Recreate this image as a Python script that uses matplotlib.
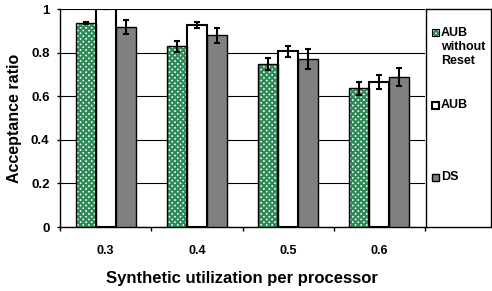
import matplotlib
matplotlib.use("Agg")
import matplotlib.pyplot as plt
from matplotlib.patches import Rectangle
import numpy as np

plt.rcParams['font.family'] = ['Liberation Sans', 'DejaVu Sans']
plt.rcParams['font.weight'] = 'bold'
plt.rcParams['hatch.linewidth'] = 1.6

categories = ["0.3", "0.4", "0.5", "0.6"]
series_names = ["AUB\nwithout\nReset", "AUB", "DS"]
aub_noreset = [0.936, 0.830, 0.748, 0.636]
aub_noreset_err = [0.006, 0.025, 0.028, 0.030]
aub = [1.0, 0.928, 0.807, 0.665]
aub_err = [0.002, 0.013, 0.025, 0.031]
ds = [0.916, 0.879, 0.771, 0.688]
ds_err = [0.032, 0.035, 0.047, 0.040]
yticks = [0, 0.2, 0.4, 0.6, 0.8, 1]
ytick_labels = ["0", "0.2", "0.4", "0.6", "0.8", "1"]

W, H = 492, 291
fig = plt.figure(figsize=(W / 100, H / 100), dpi=100)
ax = fig.add_axes([60 / W, 1 - 227 / H, (425 - 60) / W, (227 - 9) / H])

x = np.arange(len(categories)) + 0.5
bw = 0.22
green = "#2e8b57"

ax.bar(x - bw, aub_noreset, bw, color="white", edgecolor=green, hatch="xxxxxx",
       linewidth=0, zorder=3)
ax.bar(x - bw, aub_noreset, bw, fill=False, edgecolor="black", linewidth=1.0, zorder=4)
ax.bar(x, aub, bw, color="white", edgecolor="black", linewidth=1.5, zorder=3)
ax.bar(x + bw, ds, bw, color="#808080", edgecolor="black", linewidth=1.0, zorder=3)

for off, vals, errs in [(-bw, aub_noreset, aub_noreset_err), (0, aub, aub_err), (bw, ds, ds_err)]:
    ax.errorbar(x + off, vals, yerr=errs, fmt="none", ecolor="black", elinewidth=1.5,
                capsize=2.2, capthick=1.5, zorder=5)

ax.set_xlim(0, len(categories))
ax.set_ylim(0, 1)
ax.set_yticks(yticks)
ax.set_yticklabels(ytick_labels, fontsize=9.5, fontweight="bold")
ax.set_xticks(np.arange(len(categories) + 1))
ax.set_xticklabels([])
ax.set_xticks(x, minor=True)
ax.set_xticklabels(categories, minor=True, fontsize=9, fontweight="bold")
ax.tick_params(axis="x", which="minor", length=0, pad=13)
ax.tick_params(axis="x", which="major", length=3, width=1, direction="out")
ax.tick_params(axis="y", length=2.5, width=1, direction="out", pad=5)
ax.yaxis.grid(True, color="black", linewidth=0.8, zorder=0)
ax.set_axisbelow(True)
for s in ["top", "right"]:
    ax.spines[s].set_visible(False)
ax.spines["left"].set_linewidth(1.0)
ax.spines["bottom"].set_linewidth(1.0)

ax.set_ylabel("Acceptance ratio", fontsize=11.5, fontweight="bold")
ax.yaxis.set_label_coords((15 - 60) / 365, 0.5)
ax.yaxis.label.set_verticalalignment("center")
ax.set_xlabel("Synthetic utilization per processor", fontsize=12, fontweight="bold")
ax.xaxis.set_label_coords((242 - 60) / 365, (227 - 278) / 218)
ax.xaxis.label.set_verticalalignment("center")

# legend box
lax = fig.add_axes([426 / W, 1 - 227 / H, (491 - 426) / W, (227 - 9) / H])
lax.set_xlim(426, 491)
lax.set_ylim(227, 9)
lax.set_xticks([])
lax.set_yticks([])
for s in lax.spines.values():
    s.set_linewidth(1.0)
    s.set_color("black")
entries = [
    (33, dict(facecolor="white", edgecolor=green, hatch="xxxxxx", linewidth=0)),
    (106, dict(facecolor="white", edgecolor="black", linewidth=1.5)),
    (178, dict(facecolor="#808080", edgecolor="black", linewidth=1.0)),
]
for (yc, kw), name in zip(entries, series_names):
    lax.add_patch(Rectangle((432, yc - 4), 7, 7, **kw))
    if "hatch" in kw:
        lax.add_patch(Rectangle((432, yc - 4), 7, 7, fill=False, edgecolor="black", linewidth=0.8))
    lax.text(441, yc - 6.5, name, fontsize=9, fontweight="bold", va="top", ha="left",
             linespacing=1.25)

fig.savefig("out.png", dpi=100)
